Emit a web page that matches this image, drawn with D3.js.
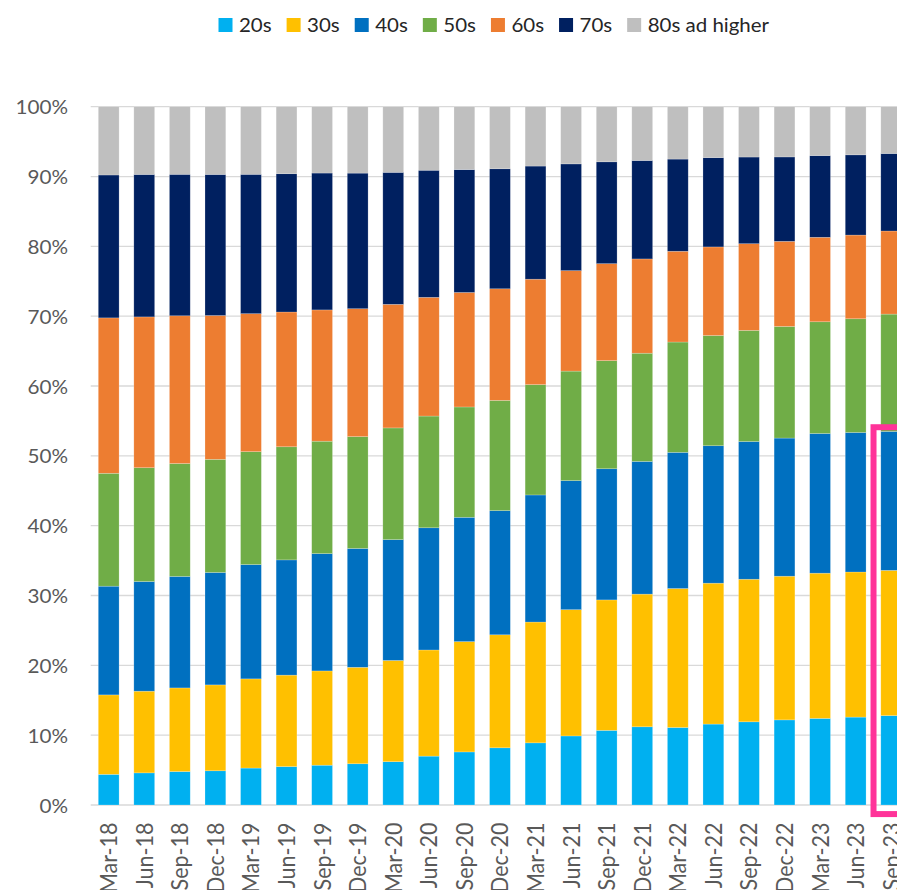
<!DOCTYPE html>
<html>
<head>
<meta charset="utf-8">
<script src="https://cdn.jsdelivr.net/npm/d3@7"></script>
<style>
  html, body { margin: 0; padding: 0; background: #fff; overflow: hidden; }
  svg { display: block; }
</style>
</head>
<body>
<svg id="chart" width="897" height="890"></svg>
<script>
const categories = ["Mar-18","Jun-18","Sep-18","Dec-18","Mar-19","Jun-19","Sep-19","Dec-19","Mar-20","Jun-20","Sep-20","Dec-20","Mar-21","Jun-21","Sep-21","Dec-21","Mar-22","Jun-22","Sep-22","Dec-22","Mar-23","Jun-23","Sep-23"];
const seriesNames = ["20s","30s","40s","50s","60s","70s","80s ad higher"];
const s20s = [4.4,4.6,4.8,4.9,5.3,5.5,5.7,5.9,6.2,7.0,7.6,8.2,8.9,9.9,10.7,11.2,11.1,11.6,11.9,12.2,12.4,12.6,12.8];
const s30s = [11.4,11.7,12.0,12.3,12.8,13.1,13.5,13.8,14.5,15.2,15.8,16.2,17.3,18.1,18.7,19.0,19.9,20.2,20.4,20.6,20.8,20.8,20.8];
const s40s = [15.6,15.7,16.0,16.1,16.4,16.5,16.8,17.0,17.3,17.5,17.8,17.8,18.2,18.5,18.8,19.0,19.5,19.7,19.7,19.8,20.0,20.0,19.9];
const s50s = [16.2,16.3,16.2,16.2,16.2,16.2,16.1,16.0,16.0,16.0,15.8,15.8,15.8,15.7,15.5,15.5,15.8,15.8,15.9,16.0,16.0,16.3,16.8];
const s60s = [22.3,21.6,21.2,20.6,19.8,19.3,18.8,18.3,17.7,17.0,16.4,16.0,15.1,14.4,13.9,13.5,13.0,12.7,12.4,12.2,12.1,12.0,11.9];
const s70s = [20.5,20.4,20.3,20.2,20.0,19.8,19.6,19.4,18.9,18.2,17.6,17.2,16.2,15.3,14.6,14.1,13.2,12.8,12.4,12.1,11.7,11.5,11.1];
const s80s = [9.8,9.7,9.7,9.7,9.7,9.6,9.5,9.5,9.4,9.1,9.0,8.9,8.5,8.2,7.9,7.7,7.5,7.3,7.2,7.2,7.0,6.9,6.7];
const yTickValues = [0,0.1,0.2,0.3,0.4,0.5,0.6,0.7,0.8,0.9,1.0];
const colors = ["#00B0F0","#FFC000","#0070C0","#70AD47","#ED7D31","#002060","#BFBFBF"];
const highlightCategory = "Sep-23";
const highlightTop = 0.541;
const highlightBottom = -0.013;

const allSeries = [s20s,s30s,s40s,s50s,s60s,s70s,s80s];
const table = categories.map((c,i) => {
  const row = {cat: c};
  seriesNames.forEach((n,k) => row[n] = allSeries[k][i]);
  return row;
});

const svg = d3.select("#chart");
const plotLeft = 90.9, plotTop = 106.7, plotBottom = 805;
const x = d3.scaleBand().domain(categories).range([plotLeft, plotLeft + 23*35.57]).paddingInner(0.415).paddingOuter(0.2075);
const y = d3.scaleLinear().domain([0,1]).range([plotBottom, plotTop]);
const color = d3.scaleOrdinal().domain(seriesNames).range(colors);
const FONT = "Lato, 'Open Sans', sans-serif";

// gridlines
svg.append("g").selectAll("line").data(yTickValues).join("line")
  .attr("x1", plotLeft - 0.2).attr("x2", 910)
  .attr("y1", d => y(d)).attr("y2", d => y(d))
  .attr("stroke", "#D9D9D9").attr("stroke-width", d => d === 0 ? 1.6 : 1.3);

// y axis labels
const yAxis = d3.axisLeft(y).tickValues(yTickValues).tickFormat(d3.format(".0%")).tickSize(0).tickPadding(0);
const gy = svg.append("g").attr("transform", "translate(68,0)").call(yAxis);
gy.select(".domain").remove();
gy.selectAll(".tick text")
  .attr("font-family", FONT).attr("font-size", 19.5)
  .attr("fill", "#595959").attr("x", 0).attr("dy", "0.36em")
  .attr("text-anchor", "end")
  .attr("transform", "scale(1.06,1)");

// stacked bars
const stack = d3.stack().keys(seriesNames).offset(d3.stackOffsetExpand);
const layers = stack(table);
svg.append("g").selectAll("g").data(layers).join("g")
  .attr("fill", d => color(d.key))
  .selectAll("rect").data(d => d).join("rect")
  .attr("x", d => x(d.data.cat))
  .attr("width", x.bandwidth())
  .attr("y", d => y(d[1]))
  .attr("height", d => y(d[0]) - y(d[1]))
  .attr("stroke", "#ffffff").attr("stroke-opacity", 0.35).attr("stroke-width", 0.6);

// x axis labels
const xAxis = d3.axisBottom(x).tickSize(0).tickPadding(0);
const gx = svg.append("g").attr("transform", `translate(0,${plotBottom})`).call(xAxis);
gx.select(".domain").remove();
gx.selectAll(".tick text")
  .attr("font-family", FONT).attr("font-size", 21.5)
  .attr("fill", "#595959")
  .attr("text-anchor", "end")
  .attr("x", 0).attr("y", 0).attr("dy", "0.36em")
  .attr("transform", "translate(0,17.5) scale(1.1,1) rotate(-90)");

// highlight box on last category
const hx = x(highlightCategory) - 7.3;
svg.append("rect")
  .attr("x", hx).attr("y", y(highlightTop))
  .attr("width", 80).attr("height", y(highlightBottom) - y(highlightTop))
  .attr("fill", "none").attr("stroke", "#FF3399").attr("stroke-width", 6);

// legend
const legendScale = 1.05;
const legend = svg.append("g").attr("transform", "translate(218.5,18)");
let lx = 0;
seriesNames.forEach((n,k) => {
  const g = legend.append("g").attr("transform", `translate(${lx},0)`);
  g.append("rect").attr("width", 14).attr("height", 14).attr("fill", colors[k]);
  const t = g.append("text").attr("x", 0).attr("y", 0)
    .attr("transform", `translate(20.5,14) scale(${legendScale},1)`)
    .attr("font-family", FONT).attr("font-size", 19.5)
    .attr("fill", "#262626").text(n);
  lx += 20.5 + t.node().getComputedTextLength() * legendScale + 15;
});
</script>
</body>
</html>
